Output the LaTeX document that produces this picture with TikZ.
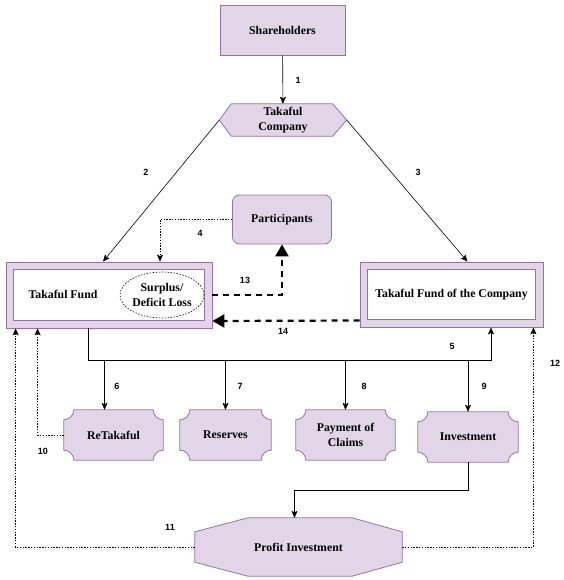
\documentclass[tikz,border=0pt]{standalone}
\usepackage{fontspec}
\setmainfont{Liberation Serif}
\setsansfont{Liberation Sans}
\usetikzlibrary{arrows.meta,backgrounds,shapes.geometric}
\definecolor{pfill}{HTML}{E1D5E7}
\definecolor{pline}{HTML}{9673A6}
\newcommand\plaquepath[1]{%
 \path[plaq] ([xshift=10pt]#1.north west) -- ([xshift=-10pt]#1.north east)
 .. controls ([shift={(-10pt,-5.5pt)}]#1.north east) and ([shift={(-5.5pt,-10pt)}]#1.north east) .. ([yshift=-10pt]#1.north east)
 -- ([yshift=10pt]#1.south east)
 .. controls ([shift={(-5.5pt,10pt)}]#1.south east) and ([shift={(-10pt,5.5pt)}]#1.south east) .. ([xshift=-10pt]#1.south east)
 -- ([xshift=10pt]#1.south west)
 .. controls ([shift={(10pt,5.5pt)}]#1.south west) and ([shift={(5.5pt,10pt)}]#1.south west) .. ([yshift=10pt]#1.south west)
 -- ([yshift=-10pt]#1.north west)
 .. controls ([shift={(5.5pt,-10pt)}]#1.north west) and ([shift={(10pt,-5.5pt)}]#1.north west) .. ([xshift=10pt]#1.north west)
 -- cycle;}
\tikzset{
 txt/.style={font=\fontsize{11.8}{14.5}\selectfont\bfseries, align=center, inner sep=0pt},
 box/.style={txt, fill=pfill, draw=pline, line width=0.8pt},
 plaq/.style={fill=pfill, draw=pline, line width=0.8pt},
 frame/.style={fill=pfill, draw=pline, line width=0.8pt, inner sep=0pt},
 innerbox/.style={fill=white, draw=pline, line width=0.8pt},
 num/.style={font=\sffamily\bfseries\fontsize{9}{10}\selectfont, inner sep=0pt},
 arr/.style={-{Stealth[length=7pt,width=6pt,inset=1.5pt]}, line width=0.6pt},
 dots/.style={-{Stealth[length=7pt,width=6pt,inset=1.5pt]}, line width=0.6pt, dash pattern=on 1.4pt off 1.4pt},
 bigdash/.style={-{Triangle[length=12pt,width=13pt]}, line width=2.2pt, dash pattern=on 6pt off 5pt},
 plain/.style={line width=0.6pt}
}
\begin{document}
\begin{tikzpicture}[x=1pt,y=-1pt]
\useasboundingbox (0,0) rectangle (563,580);
% top
\node[box, minimum width=125pt, minimum height=50pt] (sh) at (282.5,30) {Shareholders};
\node[txt, minimum width=127pt, minimum height=32pt] (tc) at (283,120) {Takaful\\Company};
\node[box, rounded corners=7pt, minimum width=99pt, minimum height=49pt] (part) at (282,219.5) {Participants};
% funds
\node[frame, minimum width=206pt, minimum height=66pt] (tf) at (109,295) {};
\draw[innerbox] ([shift={(8pt,-8pt)}]tf.north west) rectangle ([shift={(-8pt,8pt)}]tf.south east);
\node[txt] (tftext) at (63,294) {Takaful Fund};
\node[txt, ellipse, draw=black, line width=0.6pt, dash pattern=on 1.5pt off 1.5pt, minimum width=84pt, minimum height=46pt, inner sep=0pt] (surplus) at (162,295) {Surplus/\\Deficit Loss};
\node[frame, minimum width=183pt, minimum height=65pt] (tfc) at (451.5,294.5) {};
\draw[innerbox] ([shift={(8pt,-8pt)}]tfc.north west) rectangle ([shift={(-8pt,8pt)}]tfc.south east);
\node[txt] (tfctext) at (451.5,294.5) {Takaful Fund of the Company};
% plaques
\node[txt, minimum width=99pt, minimum height=50pt] (retak) at (113.5,435) {ReTakaful};
\node[txt, minimum width=91pt, minimum height=50pt] (reserves) at (225.5,435) {Reserves};
\node[txt, minimum width=99pt, minimum height=50pt] (pay) at (345.5,435) {Payment of\\Claims};
\node[txt, minimum width=100pt, minimum height=50pt] (inv) at (468,437) {Investment};
\node[txt, minimum width=207pt, minimum height=58pt] (profit) at (298.5,547) {Profit Investment};
% background shapes
\begin{scope}[on background layer]
\path[plaq] (tc.west) -- ([xshift=12pt]tc.north west) -- ([xshift=-14pt]tc.north east) -- (tc.east) -- ([xshift=-14pt]tc.south east) -- ([xshift=12pt]tc.south west) -- cycle;
\plaquepath{retak}
\plaquepath{reserves}
\plaquepath{pay}
\plaquepath{inv}
\path[plaq] ([xshift=53pt]profit.north west) -- ([xshift=-50pt]profit.north east) -- ([yshift=-14pt]profit.north east) -- ([yshift=14pt]profit.south east) -- ([xshift=-50pt]profit.south east) -- ([xshift=53pt]profit.south west) -- ([yshift=14pt]profit.south west) -- ([yshift=-14pt]profit.north west) -- cycle;
\end{scope}
% coordinates
\coordinate (j1) at (88,360);
\coordinate (j2) at (491,360);
\coordinate (r6) at ([xshift=-9pt]retak.north);
\coordinate (c2) at ([xshift=-6pt]tf.north);
\coordinate (c3) at ([xshift=16pt]tfc.north);
\coordinate (c4) at ([xshift=51pt]tf.north);
\coordinate (c10) at ([xshift=32pt]tf.south west);
\coordinate (c11) at ([xshift=10pt]tf.south west);
\coordinate (c12) at ([xshift=-10pt]tfc.south east);
\coordinate (cp) at ([xshift=-4pt]profit.north);
\coordinate (a14) at ([yshift=-26pt]tfc.west);
\coordinate (b14) at ([yshift=-26pt]tf.east);
% connectors
\draw[arr] (sh) -- (tc);
\draw[arr] (tc.west) -- (c2);
\draw[arr] (tc.east) -- (c3);
\draw[dots] (part.west) -| (c4);
\draw[bigdash] (tf.east |- surplus.east) -| (part.south);
\draw[bigdash] (a14) -- (b14);
\draw[arr] (tf.south -| j1) -- (j1) -- (j2) -- (tfc.south -| j2);
\draw[arr] (r6 |- j1) -- (r6);
\draw[arr] (reserves.north |- j1) -- (reserves.north);
\draw[arr] (pay.north |- j1) -- (pay.north);
\draw[arr] (inv.north |- j1) -- (inv.north);
\draw[arr] (inv.south) -- ++(0,28) -| (cp);
\draw[dots] (retak.west) -| (c10);
\draw[dots] (profit.west) -| (c11);
\draw[dots] (profit.east) -| (c12);
% labels
\node[num] (l1) at (298,80) {1};
\node[num] (l2) at (146,172) {2};
\node[num] (l3) at (418,172) {3};
\node[num] (l4) at (200,233) {4};
\node[num] (l5) at (452,346) {5};
\node[num] (l6) at (117,386) {6};
\node[num] (l7) at (240,386) {7};
\node[num] (l8) at (364,386) {8};
\node[num] (l9) at (484,386) {9};
\node[num] (l10) at (43,451) {10};
\node[num] (l11) at (170,527) {11};
\node[num] (l12) at (555,363) {12};
\node[num] (l13) at (245,280) {13};
\node[num] (l14) at (283,331) {14};
\end{tikzpicture}
\end{document}
